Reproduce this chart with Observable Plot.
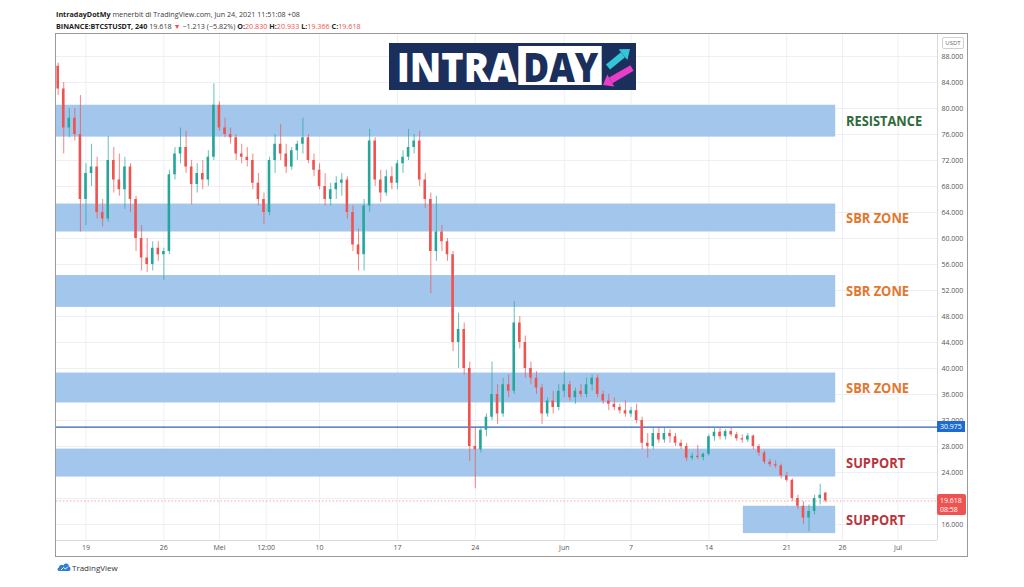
<!DOCTYPE html>
<html><head><meta charset="utf-8">
<script src="https://cdn.jsdelivr.net/npm/d3@7"></script>
<script src="https://cdn.jsdelivr.net/npm/@observablehq/plot@0.6"></script>
<style>
html,body{margin:0;padding:0;background:#fff;}
body{width:1024px;height:587px;position:relative;overflow:hidden;font-family:"Open Sans","Noto Sans",sans-serif;color:#333;}
.hdr{position:absolute;left:56px;font-size:7.2px;white-space:nowrap;line-height:9px;color:#3a3a3a;}
#h1{top:10px;} #h2{top:22px;}
.b{font-weight:bold;color:#222;} .r{color:#ef5350;}
#chart{position:absolute;left:56px;top:34px;}
#frame{position:absolute;left:55px;top:33px;width:911px;height:522px;border:1.5px solid #9a9a9a;pointer-events:none;}
#usdt{position:absolute;left:942px;top:37px;width:20px;height:10px;border:1px solid #d0d0d0;border-radius:2px;font-size:6px;line-height:10px;text-align:center;color:#666;background:#fff;}
.plab{position:absolute;left:937px;color:#fff;font-size:7px;line-height:9px;padding-left:3px;box-sizing:border-box;}
#logo{position:absolute;left:389px;top:33px;overflow:visible;}
#tv{position:absolute;left:57px;top:562px;font-size:8px;color:#333;}
#tv span{position:absolute;left:15px;top:0px;line-height:11px;white-space:nowrap;}
</style></head>
<body>
<div class="hdr" id="h1"><span class="b">IntradayDotMy</span> menerbit di TradingView.com, Jun 24, 2021 11:51:08 +08</div>
<div class="hdr" id="h2"><span class="b">BINANCE:BTCSTUSDT, 240</span> 19.618 <span class="r">▼</span> −1.213 (−5.82%) <span class="b">O:</span><span class="r">20.830</span> <span class="b">H:</span><span class="r">20.933</span> <span class="b">L:</span><span class="r">19.366</span> <span class="b">C:</span><span class="r">19.618</span></div>
<div id="chart"></div>
<div id="frame"></div>
<div id="usdt">USDT</div>
<svg id="logo" width="247" height="67">
  <rect x="0" y="10" width="247" height="47" fill="#1a2f5c"/>
  <text x="7.7" y="48.7" fill="#fff" font-family="Open Sans" font-weight="800" font-size="40" textLength="120" lengthAdjust="spacingAndGlyphs">INTRA</text>
  <rect x="129.3" y="13" width="83.4" height="39" fill="#fff"/>
  <text x="134.3" y="48.7" fill="#1a2f5c" font-family="Open Sans" font-weight="800" font-size="40" textLength="75" lengthAdjust="spacingAndGlyphs">DAY</text>
  <line x1="219" y1="34" x2="234" y2="21.7" stroke="#33c6d4" stroke-width="6.5"/>
  <polygon points="241,16 238.4,27.1 229.6,16.3" fill="#33c6d4"/>
  <line x1="243" y1="35" x2="221.8" y2="47.4" stroke="#ea3ec8" stroke-width="6.5"/>
  <polygon points="214,52 225.3,53.4 218.3,41.4" fill="#ea3ec8"/>
</svg>
<div id="tv"><svg width="14" height="10" viewBox="0 0 14 10"><path d="M2,9 C0,9 0,6 2,5.5 C2,3 5,2 6.5,3.5 C7.5,0.5 12,1 12,4.5 C14,5 14,9 12,9 Z" fill="#2f7fd8"/><path d="M4,8 L6.5,5.5 L8.5,7 L11,4.5" stroke="#fff" stroke-width="1" fill="none"/></svg><span>TradingView</span></div>
<script>
// ---- data ----
const startDay = -2.5;      // first candle: days since 19 Apr 2021
const stepDays = 0.5;       // 12-hour candles
const opens  = [86.5,83,77,78.5,76,66,70,71,64,63,72,69,67.5,71,66,60,57,56,58.5,57.5,58,69.8,73,74,71,68.3,70,69,72.5,80.5,77,76,75.5,73,72.5,72,68.5,66,64,72,74.5,73,71,73.5,74.5,75.5,72,70.5,68,66,67.5,68.5,69,64,59,57.5,65,75,69,67,69.5,68.5,71.5,72.5,74,75,69,66,58,61,59.5,57.5,44,46,40,28,27.5,30.5,32.5,36,33,37.5,36.5,47,44,40,38.5,37,33,35,34,36.5,37.5,35.5,36.5,36,37.5,38.5,36,35,34.5,34,33.5,33,33.5,32,28.5,28,30,29,30,29.5,28.5,28,26.2,26.5,26.3,26.8,29.5,30.2,29.5,30.3,29.8,29.2,29,29.6,28,27,25.6,25.2,25,23.5,22.8,20,18.8,17,18,20,20.83];
const closes = [83,77,78.5,76,66,70,71,64,63,72,69,67.5,71,66,60,57,56,58.5,57.5,58,69.8,73,74,71,68.3,70,69,72.5,80.5,77,76,75.5,73,72.5,72,68.5,66,64,72,74.5,73,71,73.5,74.5,75.5,72,70.5,68,66,67.5,68.5,69,64,59,57.5,65,75,69,67,69.5,68.5,71.5,72.5,74,75,69,66,58,61,59.5,57.5,44,46,40,28,27.5,30.5,32.5,36,33,37.5,36.5,47,44,40,38.5,37,33,35,34,36.5,37.5,35.5,36.5,36,37.5,38.5,36,35,34.5,34,33.5,33,33.5,32,28.5,28,30,29,30,29.5,28.5,28,26.2,26.5,26.3,26.8,29.5,30.2,29.5,30.3,29.8,29.2,29,29.6,28,27,25.6,25.2,25,23.5,22.8,20,18.8,17,18,20,20.5,19.618];
const highs  = [87,84,80,80,82,71.5,74.5,72.5,66,75.7,74,73,72.5,71.5,66.5,62,60,59.5,59.5,58.5,70.5,74,77,76.5,72,71.5,72,73.5,83.8,81,78.5,77,76,74.5,74,73,70,67,72.5,76,77.5,74.5,74,75,78.5,76,73,71.5,70,68.5,69.5,70,69.5,65,61.5,66,76.8,75.5,70.5,70.5,71,72,73.5,76.8,76,76.5,70,67,66.5,62,60,58,48.5,47,41,30.8,31,33,41,37.5,38.5,39,50.3,48,45,41,39.5,37.5,35.5,36.5,37.5,39.5,38,37,37.5,38.5,39,39,36.5,36,35.5,34.5,35,34,34.5,32.5,30,30.8,31,30.8,30.6,30,29,28.5,27,28.2,27,29.8,30.8,30.9,30.6,30.8,30.2,29.8,30,29.8,28.3,27.3,26,25.8,25.3,24,23,20.5,19.5,19,20.5,22.2,20.933];
const lows   = [82,73,75.5,75,61,62,68,63,61.8,62.5,67,66.5,64.5,64,58,55,54.8,55,56.5,53.5,57.5,69,71.5,70,65.2,67,67.5,68,72,76.5,75.5,74.5,72,71.5,71,67.5,65,62.2,63.5,70,72,70,70.5,72,73,71.5,69.5,67.5,65,65,66,66.5,63,58,55,55,64,68,65.5,66.5,67.5,67.5,70,72,73,68,64.6,51.5,56.5,58,56.5,42.6,40,39,25.7,21.5,27,29.5,32,31.4,32.5,35.5,36,43,38.5,37.5,36,31.4,32.5,33,33.5,35.5,35,34.5,35.5,35.5,36.5,35.5,34.5,33.5,33.5,33,32.5,32.5,31.5,27.5,26.2,27.5,28.5,28.5,28.5,28,27.5,25.7,25.8,26,25.8,26.5,28.8,29,29,29.5,28.8,28.5,28.6,27.5,26.5,25.2,24.8,24.6,23,22.5,19.5,18.3,16,14.9,17.5,19,19.366];

const zoneNames  = ["RESISTANCE","SBR ZONE","SBR ZONE","SBR ZONE","SUPPORT","SUPPORT"];
const zoneLow    = [75.6,61.0,49.4,34.7,23.3,14.6];
const zoneHigh   = [80.5,65.3,54.3,39.3,27.6,18.8];
const zoneStart  = [-2.65,-2.65,-2.65,-2.65,-2.65,59.1];
const zoneEnd    = [67.4,67.4,67.4,67.4,67.4,67.4];
const zoneColors = ["#2e6b3a","#e2782f","#e2782f","#e2782f","#b5363c","#b5363c"];

const tickDays   = [0,7,12,16.2,21,28,35,43,49,56,63,68,73];
const tickLabels = ["19","26","Mei","12:00","10","17","24","Jun","7","14","21","26","Jul"];
const gridPrices = [16,20,24,28,32,36,40,44,48,52,56,60,64,68,72,76,80,84,88];
const labelPrices = [16,24,28,32,36,40,44,48,52,56,60,64,68,72,76,80,84,88];

const hLineLevel = 30.975;
const lastClose  = 19.618;
const lastCountdown = "08:58";

// ---- build ----
const UP = "#26a69a", DOWN = "#ef5350";
const candles = opens.map((o, i) => ({t: startDay + i * stepDays, o, c: closes[i], h: highs[i], l: lows[i]}));
const zones = zoneNames.map((name, i) => ({name, lo: zoneLow[i], hi: zoneHigh[i], x1: zoneStart[i], x2: zoneEnd[i], color: zoneColors[i]}));
const labelX = 68.33;
const xMin = -2.65, xMax = 76.55, yMin = 13.538, yMax = 91.385;

const chart = Plot.plot({
  width: 912, height: 523,
  marginLeft: 0, marginRight: 31, marginTop: 0, marginBottom: 17,
  style: {background: "transparent", color: "#6b6b6b", fontFamily: "'Open Sans', sans-serif", fontSize: "7px"},
  x: {type: "linear", domain: [xMin, xMax], label: null},
  y: {domain: [yMin, yMax], label: null},
  color: {type: "identity"},
  marks: [
    Plot.gridX({ticks: tickDays, stroke: "#eceff4", strokeOpacity: 1}),
    Plot.gridY({ticks: gridPrices, stroke: "#eceff4", strokeOpacity: 1}),
    Plot.rect(zones, {x1: "x1", x2: "x2", y1: "lo", y2: "hi", fill: "#a3c6ec"}),
    Plot.ruleY([hLineLevel], {stroke: "#2b62b5", strokeWidth: 1.3}),
    Plot.ruleY([lastClose], {stroke: "#ef5350", strokeOpacity: 0.5, strokeDasharray: "1.5,2"}),
    Plot.ruleX(candles, {x: "t", y1: "l", y2: "h", stroke: d => d.c >= d.o ? UP : DOWN, strokeOpacity: 0.7, strokeWidth: 1}),
    Plot.rect(candles, {x1: d => d.t - 0.115, x2: d => d.t + 0.115, y1: "o", y2: "c", fill: d => d.c >= d.o ? UP : DOWN}),
    Plot.text(zones, {x: labelX, y: d => (d.lo + d.hi) / 2, text: "name", fill: "color", textAnchor: "start", fontSize: 15, fontWeight: "bold", fontFamily: "Open Sans"}),
    Plot.ruleY([yMin], {stroke: "#dadada"}),
    Plot.ruleX([xMax], {stroke: "#dadada"}),
    Plot.axisX({ticks: tickDays, tickFormat: d => tickLabels[tickDays.indexOf(d)], tickSize: 0, tickPadding: 5, fill: "#555"}),
    Plot.axisY({anchor: "right", ticks: labelPrices, tickFormat: d => d + ".000", tickSize: 0, tickPadding: 4, fill: "#555"})
  ]
});
document.getElementById("chart").appendChild(chart);

// squeeze zone labels to their printed widths
const widths = {"RESISTANCE": 76, "SBR ZONE": 63, "SUPPORT": 59};
d3.select(chart).selectAll('g[aria-label="text"] text').each(function() {
  const t = this.textContent;
  if (widths[t]) { this.setAttribute("textLength", widths[t]); this.setAttribute("lengthAdjust", "spacingAndGlyphs"); }
});

// price-axis labels
const ys = chart.scale("y");
const top0 = 34;
const bl = document.createElement("div");
bl.className = "plab";
bl.style.background = "#1e6cd0";
bl.style.width = "28px"; bl.style.height = "11px";
bl.style.top = (top0 + ys.apply(hLineLevel) - 5.5) + "px";
bl.style.lineHeight = "11px";
bl.textContent = hLineLevel.toFixed(3);
document.body.appendChild(bl);

const rl = document.createElement("div");
rl.className = "plab";
rl.style.background = "#ef5350";
rl.style.width = "29px"; rl.style.height = "21px";
rl.style.borderRadius = "2px";
rl.style.top = (top0 + ys.apply(lastClose) - 6) + "px";
rl.style.paddingTop = "1.5px";
rl.innerHTML = lastClose.toFixed(3) + "<br>" + lastCountdown;
document.body.appendChild(rl);
</script>
</body></html>
